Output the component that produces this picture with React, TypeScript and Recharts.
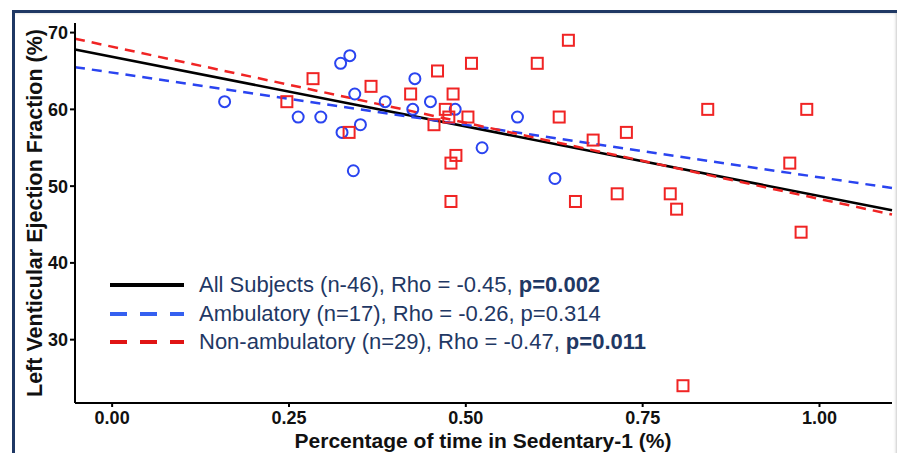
import { ScatterChart, Scatter, XAxis, YAxis, ReferenceLine, Label } from 'recharts'

// Ambulatory subjects (blue circles)
const ambX = [0.159, 0.263, 0.295, 0.323, 0.336, 0.343, 0.325, 0.351, 0.341, 0.386, 0.425, 0.428, 0.45, 0.485, 0.523, 0.573, 0.626]
const ambY = [61, 59, 59, 66, 67, 62, 57, 58, 52, 61, 60, 64, 61, 60, 55, 59, 51]

// Non-ambulatory subjects (red squares)
const nonX = [0.247, 0.284, 0.335, 0.366, 0.422, 0.455, 0.46, 0.471, 0.476, 0.479, 0.479, 0.482, 0.486, 0.503, 0.508, 0.601, 0.632, 0.645, 0.655, 0.68, 0.714, 0.727, 0.789, 0.798, 0.807, 0.842, 0.958, 0.974, 0.982]
const nonY = [61, 64, 57, 63, 62, 58, 65, 60, 59, 53, 48, 62, 54, 59, 66, 66, 59, 69, 48, 56, 49, 57, 49, 47, 24, 60, 53, 44, 60]

// fitted lines, end points
const fitX = [-0.0525, 1.1025]
const fitAll = [67.8, 46.85]
const fitAmb = [65.5, 49.75]
const fitNon = [69.2, 46.3]

const xTicks = [0, 0.25, 0.5, 0.75, 1]
const yTicks = [30, 40, 50, 60, 70]

const BLUE = '#2a44f0'
const RED = '#f02424'
const NAVY = '#1f3864'
const FONT = 'Arial, "Liberation Sans", sans-serif'

const ambData = ambX.map((x, i) => ({ x, y: ambY[i] }))
const nonData = nonX.map((x, i) => ({ x, y: nonY[i] }))
const seg = (ys: number[]) => fitX.map((x, i) => ({ x, y: ys[i] }))

const Circle = (p: any) => <circle cx={p.cx} cy={p.cy} r={5.5} fill="none" stroke={BLUE} strokeWidth={2} />
const Square = (p: any) => <rect x={p.cx - 5.5} y={p.cy - 5.5} width={11} height={11} fill="none" stroke={RED} strokeWidth={2} />

const tick = { fontSize: 18, fontWeight: 700, fill: '#111', fontFamily: FONT }

const legendRows = [
  { color: '#000', dash: undefined, text: 'All Subjects (n-46), Rho = -0.45, ', bold: 'p=0.002' },
  { color: '#3560f0', dash: '17 13', text: 'Ambulatory (n=17), Rho = -0.26, p=0.314', bold: '' },
  { color: '#e01414', dash: '17 13', text: 'Non-ambulatory (n=29), Rho = -0.47, ', bold: 'p=0.011' },
]

export default function App() {
  return (
    <div style={{ position: 'relative', width: 905, height: 461, margin: -8, background: '#fff', fontFamily: FONT, overflow: 'hidden' }}>
      <div style={{ position: 'absolute', left: 12, top: 10, width: 885, height: 460, border: `3px solid ${NAVY}`, boxShadow: 'inset -4px 0 3px #c8c8c8' }} />
      <div style={{ position: 'absolute', left: 0, top: 0 }}>
        <ScatterChart width={905} height={461} margin={{ top: 23, right: 13, bottom: 0, left: 0 }}>
          <XAxis
            type="number" dataKey="x" domain={[-0.0525, 1.1025]} ticks={xTicks} allowDataOverflow
            tickFormatter={(v: number) => v.toFixed(2)} tick={tick} height={58}
            axisLine={{ stroke: '#000', strokeWidth: 2 }} tickLine={{ stroke: '#000', strokeWidth: 2 }} tickSize={4} tickMargin={4}
          >
            <Label content={() => (
              <text x={483} y={448} textAnchor="middle" fontSize={21} fontWeight={700} fill="#111" fontFamily={FONT}>
                Percentage of time in Sedentary-1 (%)
              </text>
            )} />
          </XAxis>
          <YAxis
            type="number" dataKey="y" domain={[21.75, 71.25]} ticks={yTicks} allowDataOverflow
            tick={tick} width={75}
            axisLine={{ stroke: '#000', strokeWidth: 2 }} tickLine={{ stroke: '#000', strokeWidth: 2 }} tickSize={5} tickMargin={2}
          >
            <Label content={() => (
              <text x={42} y={213} transform="rotate(-90 42 213)" textAnchor="middle" fontSize={21.5} fontWeight={700} fill="#111" fontFamily={FONT}>
                Left Venticular Ejection Fraction (%)
              </text>
            )} />
          </YAxis>
          <ReferenceLine segment={seg(fitAll)} stroke="#000" strokeWidth={2.5} ifOverflow="visible" />
          <ReferenceLine segment={seg(fitAmb)} stroke={BLUE} strokeWidth={2.5} strokeDasharray="10 7" ifOverflow="visible" />
          <ReferenceLine segment={seg(fitNon)} stroke={RED} strokeWidth={2.5} strokeDasharray="10 7" ifOverflow="visible" />
          <Scatter data={ambData} shape={Circle} isAnimationActive={false} />
          <Scatter data={nonData} shape={Square} isAnimationActive={false} />
        </ScatterChart>
      </div>
      <div style={{ position: 'absolute', left: 110, top: 271 }}>
        {legendRows.map((r, i) => (
          <div key={i} style={{ display: 'flex', alignItems: 'center', height: 28.5 }}>
            <svg width={89} height={10}>
              <line x1={0} y1={5} x2={74} y2={5} stroke={r.color} strokeWidth={4} strokeDasharray={r.dash} />
            </svg>
            <span style={{ fontSize: 22, color: NAVY, whiteSpace: 'pre' }}>
              {r.text}<b>{r.bold}</b>
            </span>
          </div>
        ))}
      </div>
    </div>
  )
}
